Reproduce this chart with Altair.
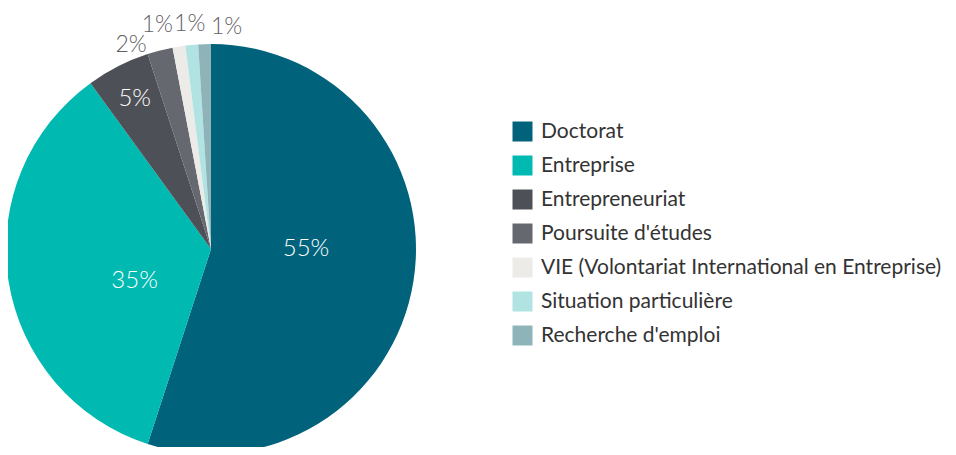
import math
import altair as alt
import pandas as pd

categories = [
    "Doctorat",
    "Entreprise",
    "Entrepreneuriat",
    "Poursuite d'études",
    "VIE (Volontariat International en Entreprise)",
    "Situation particulière",
    "Recherche d'emploi",
]
values = [55, 35, 5, 2, 1, 1, 1]
colors = ["#00637B", "#00B9B1", "#4E5057", "#66686F", "#EDEBE8", "#B1E3E3", "#8EB4BA"]

df = pd.DataFrame({"cat": categories, "value": values, "idx": list(range(len(values)))})

CX, CY, R = 203, 241, 205
FONT = "Lato"

theta_scale = alt.Scale(domain=[0, 100], range=[0, 2 * math.pi])

base = (
    alt.Chart(df)
    .transform_window(cum="sum(value)", sort=[alt.SortField("idx")])
    .transform_calculate(
        start="datum.cum - datum.value",
        mid="datum.cum - datum.value / 2",
        label="datum.value + '%'",
    )
)

pie = base.mark_arc(outerRadius=R, strokeWidth=0).encode(
    theta=alt.Theta("start:Q", scale=theta_scale),
    theta2="cum:Q",
    color=alt.Color(
        "cat:N",
        scale=alt.Scale(domain=categories, range=colors),
        sort=categories,
        legend=alt.Legend(
            title=None,
            orient="none",
            legendX=504,
            legendY=113,
            symbolType="square",
            symbolSize=400,
            symbolStrokeWidth=0,
            labelFont=FONT,
            labelFontSize=21,
            labelColor="#333333",
            labelLimit=500,
            labelOffset=8,
            rowPadding=12,
            padding=0,
        ),
    ),
    x=alt.value(CX),
    y=alt.value(CY),
)


def label_layer(cat, radius, offset_deg, color, size=24):
    return (
        base.transform_filter(alt.datum.cat == cat)
        .mark_text(
            radius=radius,
            thetaOffset=math.radians(offset_deg),
            font=FONT,
            fontSize=size,
            fontWeight=300,
            color=color,
        )
        .encode(
            theta=alt.Theta("mid:Q", scale=theta_scale),
            text="label:N",
            x=alt.value(CX),
            y=alt.value(CY),
        )
    )


layers = [
    pie,
    label_layer("Doctorat", 95, -9, "white"),
    label_layer("Entreprise", 83, -14, "white"),
    label_layer("Entrepreneuriat", 168, 0, "white"),
    label_layer("Poursuite d'études", 219, -7, "#5F6064", 23),
    label_layer("VIE (Volontariat International en Entreprise)", 230, -4.5, "#5F6064", 23),
    label_layer("Situation particulière", 226, 0, "#5F6064", 23),
    label_layer("Recherche d'emploi", 223, 5.8, "#5F6064", 23),
]

chart = (
    alt.layer(*layers)
    .properties(
        width=940,
        height=439,
        autosize=alt.AutoSizeParams(type="none"),
        padding=0,
        background="white",
    )
    .configure_view(stroke="transparent", strokeWidth=0)
)

chart.save("out.html", embed_options={"renderer": "svg", "actions": False})
